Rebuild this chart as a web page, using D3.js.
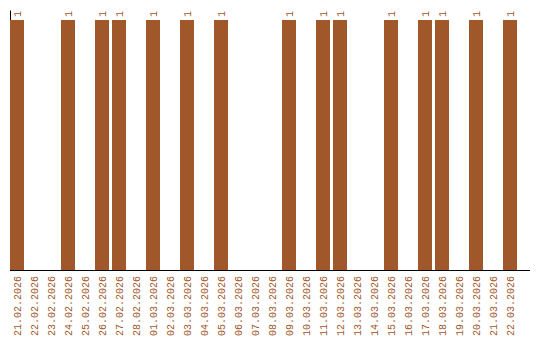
<!DOCTYPE html>
<html>
<head>
<meta charset="utf-8">
<script src="https://cdn.jsdelivr.net/npm/d3@7"></script>
<style>
    body { margin: 0; background: #fff; }
    svg { display: block; }
</style>
</head>
<body>
<div id="chart"></div>
<script>
// Daily counts, 21.02.2026 - 22.03.2026
const dates = [
    '21.02.2026', '22.02.2026', '23.02.2026', '24.02.2026', '25.02.2026',
    '26.02.2026', '27.02.2026', '28.02.2026', '01.03.2026', '02.03.2026',
    '03.03.2026', '04.03.2026', '05.03.2026', '06.03.2026', '07.03.2026',
    '08.03.2026', '09.03.2026', '10.03.2026', '11.03.2026', '12.03.2026',
    '13.03.2026', '14.03.2026', '15.03.2026', '16.03.2026', '17.03.2026',
    '18.03.2026', '19.03.2026', '20.03.2026', '21.03.2026', '22.03.2026'
];
const counts = [
    1, 0, 0, 1, 0,
    1, 1, 0, 1, 0,
    1, 0, 1, 0, 0,
    0, 1, 0, 1, 1,
    0, 0, 1, 0, 1,
    1, 0, 1, 0, 1
];

const barColor = '#a0572a';
const fontFamily = '"Liberation Mono", monospace';

const data = dates.map((d, i) => ({ date: d, value: counts[i] }));

const width = 540, height = 340;
const svg = d3.select('#chart').append('svg')
    .attr('width', width)
    .attr('height', height);

const x = d3.scaleBand()
    .domain(dates)
    .range([10, 520]);

const y = d3.scaleLinear()
    .domain([0, 1.04])
    .range([270, 10]);

const barW = x.bandwidth() - 3;

// Y axis (line only) - drawn first so bars cover it
svg.append('g')
    .attr('transform', 'translate(10,0)')
    .call(d3.axisLeft(y).ticks(0).tickSizeOuter(0))
    .call(g => g.select('.domain').attr('stroke', '#000'));

// X axis
const xAxis = svg.append('g')
    .attr('transform', `translate(0,${y(0)})`)
    .call(d3.axisBottom(x).tickSize(0).tickSizeOuter(0));

xAxis.select('.domain')
    .attr('d', `M10,0.5H530`)
    .attr('stroke', '#000');

xAxis.selectAll('.tick')
    .attr('transform', d => `translate(${x(d) + barW / 2},0)`);

xAxis.selectAll('.tick text')
    .attr('transform', 'rotate(-90)')
    .attr('x', -6)
    .attr('y', 0)
    .attr('dy', '0.35em')
    .attr('text-anchor', 'end')
    .style('font-family', fontFamily)
    .style('font-size', '10px')
    .style('fill', barColor);

// Bars
svg.append('g')
    .selectAll('rect')
    .data(data.filter(d => d.value > 0))
    .join('rect')
    .attr('x', d => x(d.date))
    .attr('y', d => y(d.value))
    .attr('width', barW)
    .attr('height', d => y(0) - y(d.value))
    .attr('fill', barColor);

// Value labels
svg.append('g')
    .selectAll('text')
    .data(data.filter(d => d.value > 0))
    .join('text')
    .attr('transform', d => `translate(${x(d.date) + barW / 2 + 3.5},${y(d.value) - 3}) rotate(-90)`)
    .attr('text-anchor', 'start')
    .style('font-family', fontFamily)
    .style('font-size', '10px')
    .style('fill', barColor)
    .text(d => d.value);
</script>
</body>
</html>
